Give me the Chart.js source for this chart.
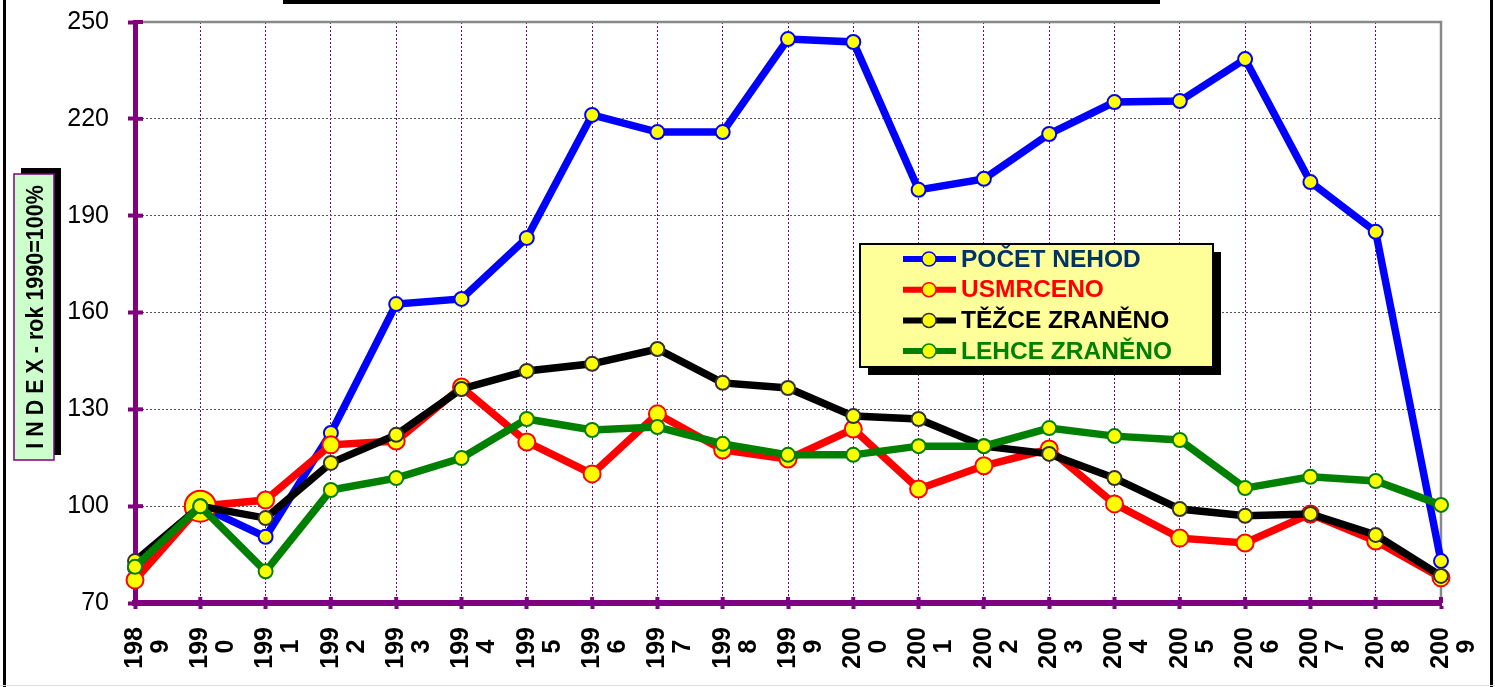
<!DOCTYPE html>
<html>
<head>
<meta charset="utf-8">
<script src="https://cdn.jsdelivr.net/npm/chart.js@4"></script>
<style>
  body { margin: 0; background: #fff; }
  canvas { display: block; }
</style>
</head>
<body>
<canvas id="chart" width="1495" height="687"></canvas>
<script>
let years = ["1989", "1990", "1991", "1992", "1993", "1994", "1995", "1996", "1997", "1998", "1999",
             "2000", "2001", "2002", "2003", "2004", "2005", "2006", "2007", "2008", "2009"];

let seriesNames = ["POČET NEHOD", "USMRCENO", "TĚŽCE ZRANĚNO", "LEHCE ZRANĚNO"];

let pocetNehod = [81, 100, 90.5, 122.7, 162.6, 164.2, 183.1, 221.2, 215.9, 215.9, 244.7,
                  243.8, 198, 201.4, 215.3, 225.2, 225.5, 238.5, 200.4, 185, 83];
let usmrceno = [77.1, 100, 101.9, 119, 120.2, 136.9, 119.9, 110, 128.6, 117.4, 114.6,
                123.9, 105.3, 112.5, 117.7, 100.7, 90.1, 88.6, 97.6, 89.2, 77.8];
let tezceZraneno = [83, 100, 96.3, 113.4, 122.1, 136.3, 141.9, 144.1, 148.7, 138.2, 136.6,
                    127.9, 127, 118.6, 116.2, 108.7, 99.1, 97, 97.6, 91.1, 78.4];
let lehceZraneno = [81.2, 100, 79.8, 105, 108.7, 114.9, 127, 123.6, 124.5, 119.3, 115.9,
                    115.9, 118.6, 118.6, 124.2, 121.7, 120.5, 105.6, 109.1, 107.8, 100.4];

let yMin = 70, yMax = 250, yStep = 30;
let yTitle = "I N D E X - rok 1990=100%";

const PURPLE = "#800080";
const FONT = "'Liberation Sans', Arial, sans-serif";
const lineColors = ["#0000ff", "#ff0000", "#000000", "#008000"];
const markerBorders = ["#0000ff", "#ff0000", "#333333", "#008000"];
const legendTextColors = ["#003366", "#ff0000", "#000000", "#008000"];

function makeSet(i, values, order) {
    return {
        label: seriesNames[i],
        data: values,
        borderColor: lineColors[i],
        borderWidth: 7.5,
        pointBackgroundColor: "#ffff00",
        pointBorderColor: markerBorders[i],
        pointBorderWidth: 2,
        pointRadius: 7,
        pointHoverRadius: 7,
        tension: 0,
        clip: false,
        order: order
    };
}

let sets = [
    makeSet(0, pocetNehod, 4),
    makeSet(1, usmrceno, 3),
    makeSet(2, tezceZraneno, 2),
    makeSet(3, lehceZraneno, 1)
];
// USMRCENO markers are a bit bigger, the 1990 one much bigger
sets[1].pointRadius = usmrceno.map((v, i) => i === 1 ? 15.5 : 8.5);

const decorations = {
    id: "decorations",
    beforeDatasetsDraw(chart) {
        let ctx = chart.ctx;
        let a = chart.chartArea;
        let x = chart.scales.x, y = chart.scales.y;
        ctx.save();
        // gray frame top and right
        ctx.strokeStyle = "#888888";
        ctx.lineWidth = 2.5;
        ctx.beginPath();
        ctx.moveTo(a.left, a.top);
        ctx.lineTo(a.right, a.top);
        ctx.lineTo(a.right, a.bottom);
        ctx.stroke();
        // inner stubs of axis ticks
        ctx.strokeStyle = PURPLE;
        ctx.lineWidth = 4;
        y.ticks.forEach((t, i) => {
            let py = y.getPixelForTick(i);
            ctx.beginPath();
            ctx.moveTo(a.left, py);
            ctx.lineTo(a.left + 8, py);
            ctx.stroke();
        });
        x.ticks.forEach((t, i) => {
            let px = x.getPixelForTick(i);
            ctx.beginPath();
            ctx.moveTo(px, a.bottom);
            ctx.lineTo(px, a.bottom - 6);
            ctx.stroke();
        });
        ctx.restore();
    },
    afterDatasetsDraw(chart) {
        let ctx = chart.ctx;
        ctx.save();
        // legend box with shadow
        let bx = 860, by = 244, bw = 353, bh = 123;
        ctx.fillStyle = "#000";
        ctx.fillRect(bx + 8, by + 8, bw, bh);
        ctx.fillStyle = "#ffff99";
        ctx.fillRect(bx, by, bw, bh);
        ctx.strokeStyle = "#000";
        ctx.lineWidth = 2;
        ctx.strokeRect(bx, by, bw, bh);
        ctx.font = "bold 24.5px " + FONT;
        ctx.textBaseline = "middle";
        ctx.textAlign = "left";
        chart.data.datasets.forEach((ds, i) => {
            let ry = 259 + i * 30.7;
            ctx.strokeStyle = ds.borderColor;
            ctx.lineWidth = 6;
            ctx.beginPath();
            ctx.moveTo(903, ry);
            ctx.lineTo(956, ry);
            ctx.stroke();
            ctx.beginPath();
            ctx.arc(929, ry, 7, 0, Math.PI * 2);
            ctx.fillStyle = "#ffff00";
            ctx.fill();
            ctx.lineWidth = 1.5;
            ctx.strokeStyle = markerBorders[i];
            ctx.stroke();
            ctx.fillStyle = legendTextColors[i];
            ctx.fillText(ds.label, 961, ry + 1);
        });
        ctx.restore();
    },
    afterDraw(chart) {
        let ctx = chart.ctx;
        ctx.save();
        // y axis title box
        ctx.fillStyle = "#000";
        ctx.fillRect(21, 168, 40, 287);
        ctx.fillStyle = "#ccffcc";
        ctx.fillRect(14, 174, 40, 286);
        ctx.strokeStyle = PURPLE;
        ctx.lineWidth = 1.5;
        ctx.strokeRect(14, 174, 40, 286);
        ctx.translate(35, 317);
        ctx.rotate(-Math.PI / 2);
        ctx.scale(1, 1.15);
        ctx.fillStyle = "#000";
        ctx.font = "bold 21.5px " + FONT;
        ctx.textAlign = "center";
        ctx.textBaseline = "middle";
        ctx.fillText(yTitle, 0, 1);
        ctx.restore();

        ctx.save();
        // cut-off title bar and page frame
        ctx.fillStyle = "#000";
        ctx.fillRect(283, 0, 877, 4);
        ctx.fillRect(3, 0, 3, 687);
        ctx.fillRect(1490, 0, 3, 687);
        ctx.fillStyle = "#dddddd";
        ctx.fillRect(0, 685, 1495, 1);
        ctx.restore();
    }
};

new Chart(document.getElementById("chart"), {
    type: "line",
    data: { labels: years, datasets: sets },
    options: {
        responsive: false,
        animation: false,
        devicePixelRatio: 1,
        layout: { padding: { top: 22, right: 54, left: 0, bottom: 0 } },
        plugins: { legend: { display: false }, tooltip: { enabled: false } },
        scales: {
            x: {
                offset: false,
                afterFit(scale) {
                    scale.height = 84;
                    scale.paddingLeft = 0;
                    scale.paddingRight = 0;
                },
                grid: {
                    color: PURPLE,
                    lineWidth: 1,
                    tickLength: 6,
                    tickWidth: 4,
                    tickColor: PURPLE,
                    tickBorderDash: []
                },
                border: { color: PURPLE, width: 6, dash: [2, 2] },
                ticks: {
                    autoSkip: false,
                    minRotation: 90,
                    maxRotation: 90,
                    padding: 18,
                    color: "#000",
                    font: { family: FONT, size: 25, weight: "bold", lineHeight: 1.04 },
                    callback: function (value) {
                        let s = this.getLabelForValue(value);
                        return [s.slice(0, 3), s.slice(3) + "\u2002"];
                    }
                }
            },
            y: {
                min: yMin,
                max: yMax,
                afterFit(scale) {
                    scale.width = 135;
                    scale.paddingTop = 0;
                    scale.paddingBottom = 0;
                },
                grid: {
                    color: "#555555",
                    lineWidth: 1,
                    tickLength: 7,
                    tickWidth: 4,
                    tickColor: PURPLE,
                    tickBorderDash: []
                },
                border: { color: PURPLE, width: 5, dash: [2, 2] },
                ticks: {
                    stepSize: yStep,
                    padding: 19,
                    color: "#000",
                    font: { family: FONT, size: 25 }
                }
            }
        }
    },
    plugins: [decorations]
});
</script>
</body>
</html>
